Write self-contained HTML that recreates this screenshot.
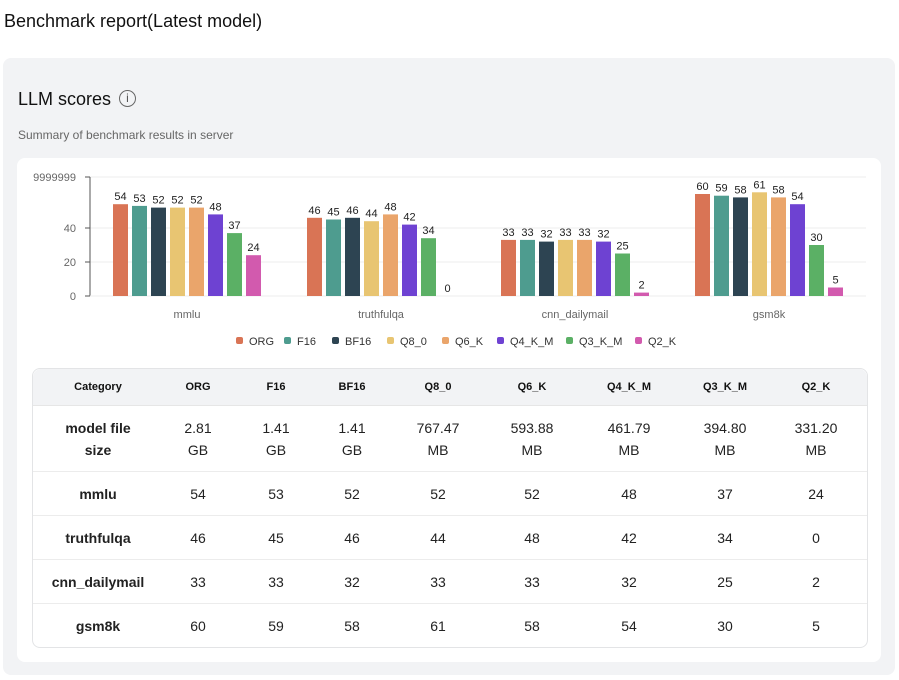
<!DOCTYPE html>
<html><head><meta charset="utf-8"><style>
body{margin:0;width:899px;height:680px;background:#fff;font-family:"Liberation Sans",sans-serif;color:#111;position:relative;overflow:hidden}
.abs{position:absolute}
h1{position:absolute;left:4px;top:11px;margin:0;font-size:18px;font-weight:normal;color:#111}
#panel{left:3px;top:58px;width:892px;height:617px;background:#f2f3f5;border-radius:8px}
#card{left:17px;top:158px;width:864px;height:504px;background:#fff;border-radius:8px}
table{position:absolute;left:32px;top:368px;width:834px;table-layout:fixed;border-collapse:separate;border-spacing:0;border:1px solid #e3e4e6;border-radius:8px;font-size:14px;text-align:center}
th{background:#f2f3f5;height:36px;padding:0;font-size:11px;font-weight:bold;border-bottom:1px solid #e6e6e6;border-radius:0}
td{border-bottom:1px solid #ececec;height:43px;padding:0;color:#222}
tr:last-child td{border-bottom:none}
td.c{font-weight:bold}
</style></head><body>
<h1>Benchmark report(Latest model)</h1>
<div id="panel" class="abs"></div>
<div class="abs" style="left:18px;top:89px;font-size:18px">LLM scores</div>
<div class="abs" style="left:119px;top:90px;width:17px;height:17px;border:1.3px solid #666;border-radius:50%;font-size:12px;text-align:center;line-height:15px;color:#555;box-sizing:border-box">i</div>
<div class="abs" style="left:18px;top:128px;font-size:12px;color:#666">Summary of benchmark results in server</div>
<div id="card" class="abs"></div>
<svg class="abs" style="left:0;top:0" width="899" height="365" id="chart"></svg>
<table>
<colgroup><col style="width:130px"><col style="width:70px"><col style="width:86px"><col style="width:66px"><col style="width:106px"><col style="width:82px"><col style="width:112px"><col style="width:80px"><col style="width:102px"></colgroup>
<tr><th style="border-top-left-radius:8px">Category</th><th>ORG</th><th>F16</th><th>BF16</th><th>Q8_0</th><th>Q6_K</th><th>Q4_K_M</th><th>Q3_K_M</th><th style="border-top-right-radius:8px">Q2_K</th></tr>
<tr><td class="c" style="height:65px;line-height:22px">model file<br>size</td><td style="line-height:22px">2.81<br>GB</td><td style="line-height:22px">1.41<br>GB</td><td style="line-height:22px">1.41<br>GB</td><td style="line-height:22px">767.47<br>MB</td><td style="line-height:22px">593.88<br>MB</td><td style="line-height:22px">461.79<br>MB</td><td style="line-height:22px">394.80<br>MB</td><td style="line-height:22px">331.20<br>MB</td></tr>
<tr><td class="c">mmlu</td><td>54</td><td>53</td><td>52</td><td>52</td><td>52</td><td>48</td><td>37</td><td>24</td></tr>
<tr><td class="c">truthfulqa</td><td>46</td><td>45</td><td>46</td><td>44</td><td>48</td><td>42</td><td>34</td><td>0</td></tr>
<tr><td class="c">cnn_dailymail</td><td>33</td><td>33</td><td>32</td><td>33</td><td>33</td><td>32</td><td>25</td><td>2</td></tr>
<tr><td class="c">gsm8k</td><td>60</td><td>59</td><td>58</td><td>61</td><td>58</td><td>54</td><td>30</td><td>5</td></tr>
</table>
<script>
const categories=["mmlu","truthfulqa","cnn_dailymail","gsm8k"];
const seriesNames=["ORG","F16","BF16","Q8_0","Q6_K","Q4_K_M","Q3_K_M","Q2_K"];
const colors=["#d97455","#4e9c8f","#2d4452","#e8c572","#eaa56b","#6e42d2","#5bb065","#d25aae"];
const ORG=[54,46,33,60],F16=[53,45,33,59],BF16=[52,46,32,58],Q8_0=[52,44,33,61],Q6_K=[52,48,33,58],Q4_K_M=[48,42,32,54],Q3_K_M=[37,34,25,30],Q2_K=[24,0,2,5];
const series=[ORG,F16,BF16,Q8_0,Q6_K,Q4_K_M,Q3_K_M,Q2_K];
const yTicks=[0,20,40];
const yMax=70;
const svg=document.getElementById('chart');const NS="http://www.w3.org/2000/svg";
const X0=90,X1=866,Y0=296,Y1=177;
const y=v=>Y0-(v/yMax)*(Y0-Y1);
const gw=(X1-X0)/categories.length;
function mk(t,a,txt){const e=document.createElementNS(NS,t);for(const k in a)e.setAttribute(k,a[k]);if(txt!==undefined)e.textContent=txt;svg.appendChild(e);return e;}
[...yTicks,yMax].forEach(t=>{const g=mk('line',{x1:X0,x2:X1,y1:y(t),y2:y(t),stroke:'#eee'});
const l=mk('text',{x:X0-14,y:y(t)+4,'text-anchor':'end','font-size':11,fill:'#666'},t===yMax?'9999999':t);
mk('line',{x1:X0-5,x2:X0,y1:y(t),y2:y(t),stroke:'#555'});});
mk('line',{x1:X0,x2:X0,y1:Y1,y2:Y0,stroke:'#555'});
mk('line',{x1:X0,x2:X1,y1:Y0,y2:Y0,stroke:'#eee'});
const bw=15,step=19;
categories.forEach((c,i)=>{const cx=X0+gw*(i+0.5);const sx=cx-step*seriesNames.length/2+2;
const cl=mk('text',{x:cx,y:318,'text-anchor':'middle','font-size':11,fill:'#666'},c);
series.forEach((s,j)=>{const v=s[i];const bx=sx+j*step;
const r=mk('rect',{x:bx,y:y(v),width:bw,height:Y0-y(v),fill:colors[j]});
const t=mk('text',{x:bx+bw/2,y:y(v)-4,'text-anchor':'middle','font-size':11,fill:'#222'},v);});});
let lx=236;seriesNames.forEach((n,j)=>{mk('rect',{x:lx,y:337,width:7,height:7,rx:2,fill:colors[j]});
const t=mk('text',{x:lx+13,y:345,'font-size':11,fill:'#333'},n);
lx+=13+n.length*7+14;});
</script>
</body></html>
